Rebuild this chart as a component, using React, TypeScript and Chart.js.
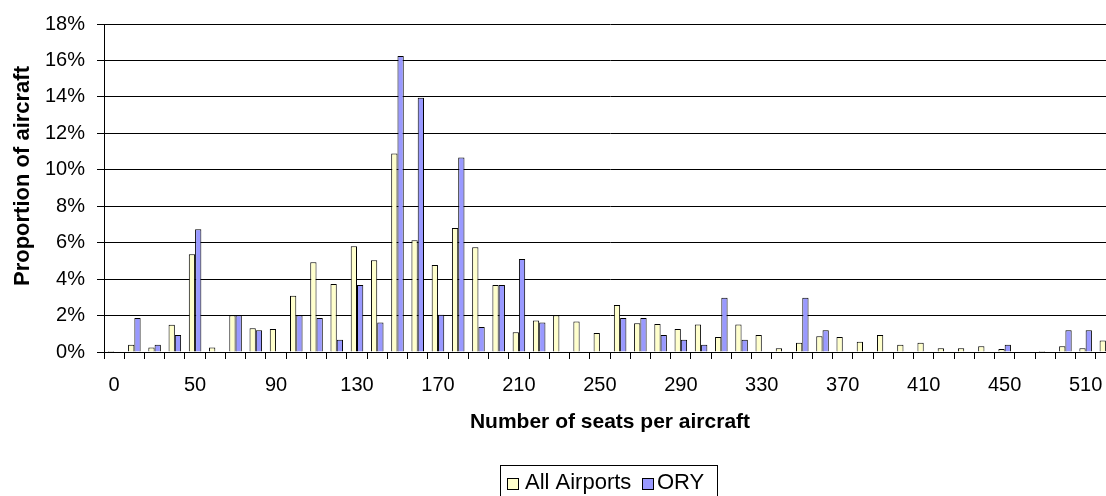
import React, { useEffect, useRef } from "react";
import { Chart, registerables } from "chart.js";

Chart.register(...registerables);

const seatCategories: string[] = [
  "0", "20", "30", "40", "50", "60", "70", "80", "90", "100",
  "110", "120", "130", "140", "150", "160", "170", "180", "190", "200",
  "210", "220", "230", "240", "250", "260", "270", "280", "290", "300",
  "310", "320", "330", "340", "350", "360", "370", "380", "390", "400",
  "410", "420", "430", "440", "450", "470", "480", "500", "510", "520",
];

const allAirports: number[] = [
  0.05, 0.40, 0.25, 1.49, 5.37, 0.25, 2.02, 1.31, 1.26, 3.09,
  4.93, 3.73, 5.80, 5.04, 10.9, 6.13, 4.77, 6.80, 5.75, 3.68,
  1.09, 1.73, 2.02, 1.67, 1.04, 2.58, 1.58, 1.53, 1.26, 1.51,
  0.82, 1.51, 0.93, 0.20, 0.51, 0.87, 0.82, 0.56, 0.93, 0.40,
  0.51, 0.20, 0.20, 0.31, 0.16, 0, 0.05, 0.31, 0.20, 0.63,
];

const ory: number[] = [
  0, 1.86, 0.40, 0.93, 6.74, 0, 2.02, 1.20, 0, 2.02,
  1.86, 0.67, 3.68, 1.62, 16.25, 13.95, 2.04, 10.68, 1.37, 3.68,
  5.10, 1.62, 0, 0, 0, 1.86, 1.86, 0.93, 0.67, 0.40,
  2.98, 0.67, 0, 0, 2.98, 1.20, 0, 0, 0, 0,
  0, 0, 0, 0, 0.40, 0, 0, 1.20, 1.20, 0,
];

const yTicks: number[] = [0, 2, 4, 6, 8, 10, 12, 14, 16, 18];
const seriesNames: string[] = ["All Airports", "ORY"];
const seriesColors: string[] = ["#FFFFCC", "#9999FF"];
const xTitle = "Number of seats per aircraft";
const yTitle = "Proportion of aircraft";

const FONT = '"Liberation Sans", Arial, sans-serif';

const extrasPlugin = {
  id: "extras",
  afterDraw(chart: any) {
    const ctx = chart.ctx as CanvasRenderingContext2D;
    ctx.save();
    // y-axis title
    ctx.fillStyle = "#000";
    ctx.font = `bold 22px ${FONT}`;
    ctx.textAlign = "center";
    ctx.textBaseline = "middle";
    ctx.translate(23, 176);
    ctx.rotate(-Math.PI / 2);
    ctx.fillText(yTitle, 0, 0);
    ctx.restore();

    // legend box
    ctx.save();
    ctx.strokeStyle = "#000";
    ctx.lineWidth = 1;
    ctx.strokeRect(500.5, 465.5, 217, 40);
    ctx.font = `22px ${FONT}`;
    ctx.textAlign = "left";
    ctx.textBaseline = "alphabetic";
    const items = [
      { sx: 507, tx: 525 },
      { sx: 642, tx: 657 },
    ];
    chart.data.datasets.forEach((ds: any, i: number) => {
      const it = items[i];
      ctx.fillStyle = ds.backgroundColor;
      ctx.fillRect(it.sx, 478, 11, 11);
      ctx.strokeStyle = "#000";
      ctx.strokeRect(it.sx + 0.5, 478.5, 11, 11);
      ctx.fillStyle = "#000";
      ctx.fillText(ds.label, it.tx, 489);
    });
    ctx.restore();
  },
};

export default function App() {
  const canvasRef = useRef<HTMLCanvasElement | null>(null);

  useEffect(() => {
    const canvas = canvasRef.current;
    if (!canvas) return;
    const chart = new Chart(canvas, {
      type: "bar",
      data: {
        labels: seatCategories,
        datasets: [
          {
            label: seriesNames[0],
            data: allAirports,
            backgroundColor: seriesColors[0],
            borderColor: "#000",
            borderWidth: 1,
            categoryPercentage: 0.62,
            barPercentage: 1.0,
          },
          {
            label: seriesNames[1],
            data: ory,
            backgroundColor: seriesColors[1],
            borderColor: "#000",
            borderWidth: 1,
            categoryPercentage: 0.62,
            barPercentage: 1.0,
          },
        ],
      },
      options: {
        responsive: false,
        devicePixelRatio: 1,
        animation: false,
        layout: { padding: { top: 24, left: 0, right: 4, bottom: 56 } },
        plugins: {
          legend: { display: false },
          tooltip: { enabled: false },
        },
        scales: {
          x: {
            type: "category",
            offset: true,
            grid: {
              display: true,
              offset: true,
              drawOnChartArea: false,
              drawTicks: true,
              tickLength: 7,
              color: "#000",
            },
            border: { display: true, color: "#000" },
            ticks: {
              autoSkip: false,
              maxRotation: 0,
              minRotation: 0,
              padding: 14,
              color: "#000",
              font: { family: FONT, size: 20 },
              callback: (_v: any, i: number) => (i % 4 === 0 ? seatCategories[i] : ""),
            },
            title: {
              display: true,
              text: xTitle,
              color: "#000",
              font: { family: FONT, size: 21, weight: "bold" },
              padding: { top: 0, bottom: 5 },
            },
            afterFit: (scale: any) => {
              scale.height = 88;
            },
          },
          y: {
            min: yTicks[0],
            max: yTicks[yTicks.length - 1],
            afterBuildTicks: (scale: any) => {
              scale.ticks = yTicks.map((v) => ({ value: v }));
            },
            grid: {
              color: "#000",
              tickLength: 7,
              drawTicks: true,
            },
            border: { display: true, color: "#000" },
            ticks: {
              padding: 12,
              color: "#000",
              font: { family: FONT, size: 20 },
              callback: (v: any) => `${v}%`,
            },
            afterFit: (scale: any) => {
              scale.width = 104;
            },
          },
        },
      },
      plugins: [extrasPlugin],
    } as any);
    return () => chart.destroy();
  }, []);

  return (
    <div
      style={{
        position: "fixed",
        left: 0,
        top: 0,
        width: 1106,
        height: 496,
        overflow: "hidden",
        background: "#fff",
      }}
    >
      <canvas
        ref={canvasRef}
        width={1120}
        height={496}
        style={{ width: "1120px", height: "496px", display: "block" }}
      />
    </div>
  );
}
